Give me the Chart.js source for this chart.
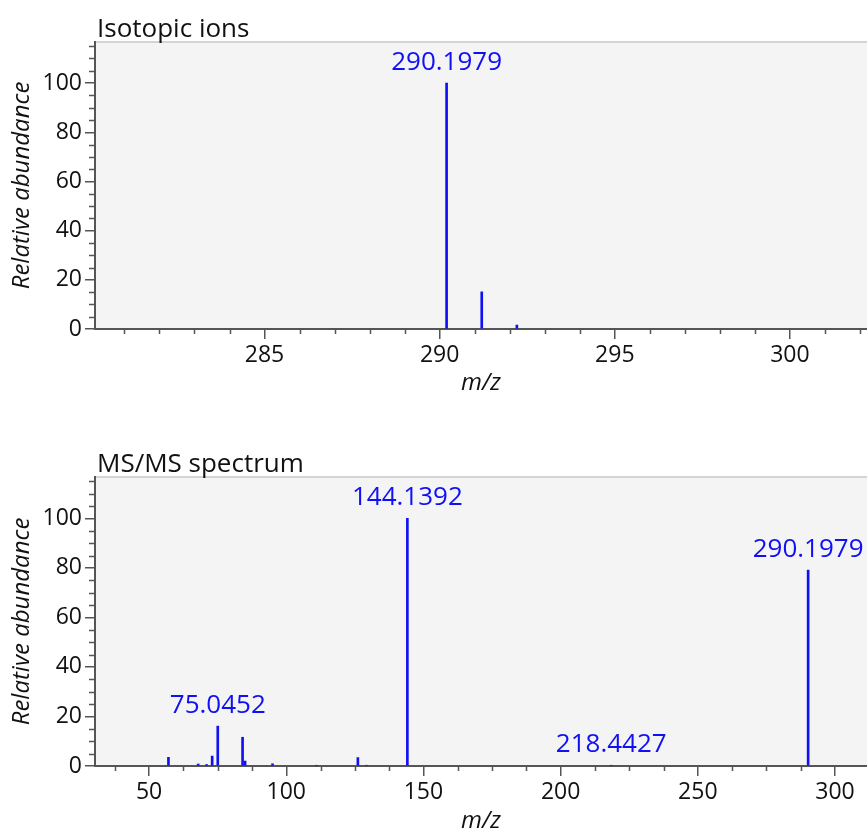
<!DOCTYPE html>
<html>
<head>
<meta charset="utf-8">
<script src="https://cdn.jsdelivr.net/npm/chart.js@4"></script>
<style>
  body { margin: 0; background: #fff; }
  .box { position: absolute; left: 0; width: 867px; }
  #top { top: 0; height: 400px; }
  #bottom { top: 400px; height: 436px; }
</style>
</head>
<body>
<div class="box" id="top"><canvas id="isoChart"></canvas></div>
<div class="box" id="bottom"><canvas id="msmsChart"></canvas></div>
<script>
// Isotopic ions
const isoMz = [290.1979, 291.2012, 292.2040];
const isoAbund = [100, 15.1, 1.6];
const isoLabelMz = [290.1979];
const isoLabelAbund = [100];
const isoLabels = ["290.1979"];
const isoTicks = [285, 290, 295, 300];

// MS/MS spectrum
const msmsMz = [57.07, 67.9, 70.97, 73.0, 75.0452, 84.08, 85.0, 95.0, 111.0, 126.1, 129.2, 144.1392, 218.4427, 290.1979];
const msmsAbund = [3.5, 0.8, 0.6, 4.0, 16.1, 11.6, 2.0, 0.9, 0.3, 3.4, 0.3, 100, 0.3, 79.1];
const msmsLabelMz = [75.0452, 144.1392, 218.4427, 290.1979];
const msmsLabelAbund = [16.1, 100, 0.3, 79.1];
const msmsLabels = ["75.0452", "144.1392", "218.4427", "290.1979"];
const msmsTicks = [50, 100, 150, 200, 250, 300];

const yTicks = [0, 20, 40, 60, 80, 100];

const FONT = "'Open Sans', sans-serif";
const BLUE = "#1010f5";

// plot background, frame, minor ticks, peak labels and title
const spectrumPlugin = {
  id: "spectrum",
  beforeDraw(chart) {
    const { ctx, chartArea: a } = chart;
    ctx.save();
    ctx.fillStyle = "#f4f4f4";
    ctx.fillRect(a.left, a.top, a.right - a.left, a.bottom - a.top);
    ctx.strokeStyle = "#d4d4d4";
    ctx.lineWidth = 2;
    ctx.beginPath();
    ctx.moveTo(a.left, a.top);
    ctx.lineTo(a.right, a.top);
    ctx.stroke();
    ctx.restore();
  },
  afterDraw(chart, args, opts) {
    const { ctx, chartArea: a, scales } = chart;
    ctx.save();
    ctx.strokeStyle = "#555";
    ctx.lineWidth = 1.5;
    ctx.beginPath();
    // minor y ticks
    for (let v = 0; v <= 115; v += 5) {
      if (v % 20 === 0) continue;
      const y = Math.round(scales.y.getPixelForValue(v)) + 0.5;
      ctx.moveTo(a.left - 6, y);
      ctx.lineTo(a.left, y);
    }
    // minor x ticks
    for (let v = opts.minorStart; v <= scales.x.max; v += opts.minorStep) {
      if (opts.majors.includes(v)) continue;
      const x = Math.round(scales.x.getPixelForValue(v)) + 0.5;
      ctx.moveTo(x, a.bottom);
      ctx.lineTo(x, a.bottom + 5);
    }
    ctx.stroke();

    // peak labels
    ctx.fillStyle = BLUE;
    ctx.font = "26px " + FONT;
    ctx.textAlign = "center";
    ctx.textBaseline = "alphabetic";
    opts.labels.forEach((t, i) => {
      const x = scales.x.getPixelForValue(opts.labelMz[i]);
      const y = scales.y.getPixelForValue(opts.labelAbund[i]);
      ctx.fillText(t, x, y - 13);
    });

    // title
    ctx.fillStyle = "#111";
    ctx.font = "26px " + FONT;
    ctx.textAlign = "left";
    ctx.fillText(opts.title, a.left + 2, a.top - 5);
    ctx.restore();
  }
};

function makeChart(id, mz, abund, xMin, xMax, majors, minorStart, minorStep, title, labelMz, labelAbund, labels, topPad, xHeight, xTitlePad) {
  return new Chart(document.getElementById(id), {
    type: "bar",
    data: {
      datasets: [{
        data: mz.map((m, i) => ({ x: m, y: abund[i] })),
        backgroundColor: BLUE,
        barThickness: 2
      }]
    },
    plugins: [spectrumPlugin],
    options: {
      responsive: true,
      maintainAspectRatio: false,
      animation: false,
      layout: { padding: { top: topPad, left: 0, right: 0, bottom: 0 } },
      plugins: {
        legend: { display: false },
        tooltip: { enabled: false },
        spectrum: { title, labelMz, labelAbund, labels, majors, minorStart, minorStep }
      },
      scales: {
        x: {
          type: "linear",
          min: xMin,
          max: xMax,
          offset: false,
          afterBuildTicks: (s) => { s.ticks = majors.map((v) => ({ value: v })); },
          afterFit: (s) => { s.height = xHeight; },
          grid: { offset: false, drawOnChartArea: false, tickLength: 10, color: "#555", lineWidth: 1.5 },
          border: { color: "#555", width: 2 },
          ticks: { color: "#111", font: { family: FONT, size: 23 }, padding: 3, maxRotation: 0 },
          title: {
            display: true,
            text: "m/z",
            color: "#111",
            font: { family: FONT, size: 24, style: "italic" },
            padding: { top: 0, bottom: xTitlePad }
          }
        },
        y: {
          min: 0,
          max: 116.7,
          afterBuildTicks: (s) => { s.ticks = yTicks.map((v) => ({ value: v })); },
          afterFit: (s) => { s.width = 95; },
          grid: { offset: false, drawOnChartArea: false, tickLength: 10, color: "#555", lineWidth: 1.5 },
          border: { color: "#555", width: 2 },
          ticks: { color: "#111", font: { family: FONT, size: 23 }, padding: 3 },
          title: {
            display: true,
            text: "Relative abundance",
            color: "#111",
            font: { family: FONT, size: 24, style: "italic" },
            padding: { top: 8, bottom: 0 }
          }
        }
      }
    }
  });
}

makeChart("isoChart", isoMz, isoAbund, 280.16, 302.2, isoTicks, 281, 1,
  "Isotopic ions", isoLabelMz, isoLabelAbund, isoLabels, 42, 71, 2);
makeChart("msmsChart", msmsMz, msmsAbund, 30.3, 311.65, msmsTicks, 37.5, 12.5,
  "MS/MS spectrum", msmsLabelMz, msmsLabelAbund, msmsLabels, 77, 70, 0);
</script>
</body>
</html>
